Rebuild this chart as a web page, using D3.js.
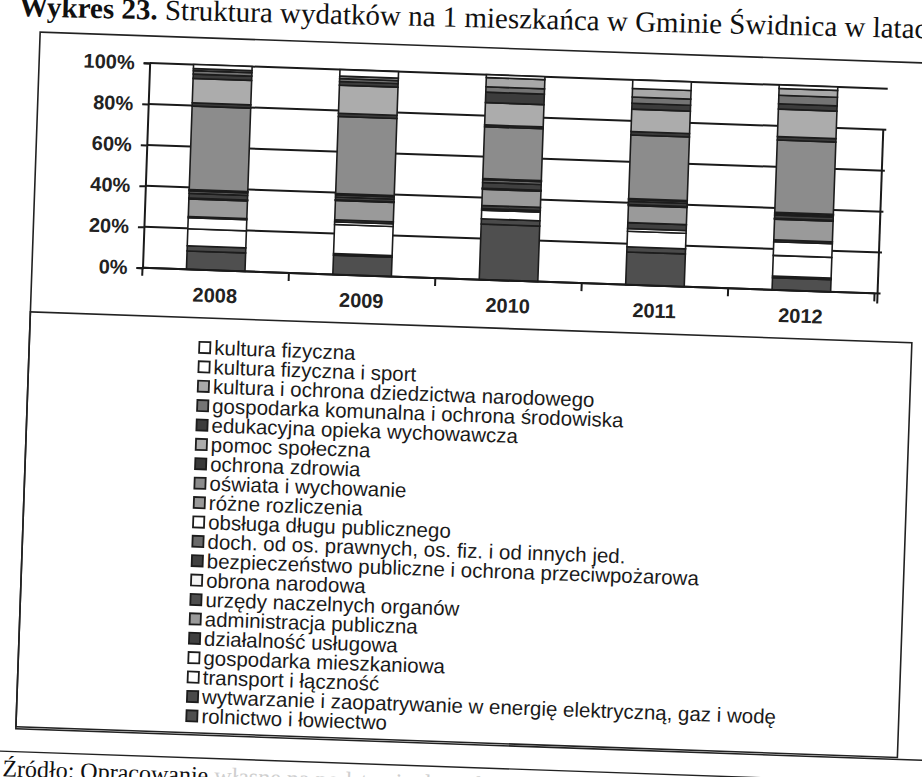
<!DOCTYPE html>
<html>
<head>
<meta charset="utf-8">
<script src="https://cdn.jsdelivr.net/npm/d3@7"></script>
<style>
  body { margin: 0; background: #fff; }
  svg { display: block; }
</style>
</head>
<body>
<script>
// Budget categories, listed as in the legend (top to bottom)
const categories = [
  "kultura fizyczna",
  "kultura fizyczna i sport",
  "kultura i ochrona dziedzictwa narodowego",
  "gospodarka komunalna i ochrona środowiska",
  "edukacyjna opieka wychowawcza",
  "pomoc społeczna",
  "ochrona zdrowia",
  "oświata i wychowanie",
  "różne rozliczenia",
  "obsługa długu publicznego",
  "doch. od os. prawnych, os. fiz. i od innych jed.",
  "bezpieczeństwo publiczne i ochrona przeciwpożarowa",
  "obrona narodowa",
  "urzędy naczelnych organów",
  "administracja publiczna",
  "działalność usługowa",
  "gospodarka mieszkaniowa",
  "transport i łączność",
  "wytwarzanie i zaopatrywanie w energię elektryczną, gaz i wodę",
  "rolnictwo i łowiectwo"
];

const years = ["2008", "2009", "2010", "2011", "2012"];
const yTicks = [0, 0.2, 0.4, 0.6, 0.8, 1.0];

// Share of expenditure per resident (%), one array per category, years 2008–2012
const kulturaFizyczna      = [0.0, 0.0, 1.4, 4.2, 1.7];
const kulturaFizycznaSport = [2.0, 3.2, 0.0, 0.0, 0.0];
const kulturaDziedzictwo   = [1.0, 1.2, 4.5, 4.2, 3.3];
const gospodarkaKomunalna  = [1.7, 1.4, 2.6, 3.0, 4.2];
const edukacyjnaOpieka     = [2.1, 1.8, 5.1, 2.9, 2.6];
const pomocSpoleczna       = [11.9, 13.7, 10.9, 10.9, 13.4];
const ochronaZdrowia       = [1.6, 1.6, 0.9, 1.7, 1.7];
const oswiata              = [40.7, 37.6, 25.3, 31.1, 35.3];
const rozneRozliczenia     = [0.2, 0.1, 0.2, 0.1, 0.1];
const obslugaDlugu         = [0.5, 0.6, 0.3, 0.3, 0.4];
const dochody              = [1.2, 1.0, 1.4, 0.9, 0.8];
const bezpieczenstwo       = [2.3, 1.3, 2.8, 1.6, 1.6];
const obronaNarodowa       = [0.1, 0.1, 0.1, 0.1, 0.1];
const urzedy               = [0.3, 0.3, 0.4, 0.3, 0.3];
const administracja        = [8.6, 9.4, 7.9, 8.4, 10.1];
const dzialalnoscUslugowa  = [0.6, 1.0, 1.5, 2.9, 0.9];
const gospodarkaMieszk     = [5.4, 1.3, 0.8, 1.3, 6.7];
const transport            = [8.3, 14.2, 4.2, 7.6, 10.1];
const wytwarzanie          = [2.5, 0.8, 2.6, 2.5, 0.8];
const rolnictwo            = [9.0, 9.4, 27.1, 16.0, 5.9];

const seriesValues = [
  kulturaFizyczna, kulturaFizycznaSport, kulturaDziedzictwo, gospodarkaKomunalna,
  edukacyjnaOpieka, pomocSpoleczna, ochronaZdrowia, oswiata, rozneRozliczenia,
  obslugaDlugu, dochody, bezpieczenstwo, obronaNarodowa, urzedy, administracja,
  dzialalnoscUslugowa, gospodarkaMieszk, transport, wytwarzanie, rolnictwo
];

// Grey fills of the printed series, same order as the legend
const fills = [
  "#ffffff", "#ffffff", "#a8a8a8", "#747474", "#3c3c3c",
  "#acacac", "#3a3a3a", "#8c8c8c", "#999999", "#ffffff",
  "#6a6a6a", "#404040", "#f4f4f4", "#4e4e4e", "#9a9a9a",
  "#404040", "#ffffff", "#ffffff", "#4a4a4a", "#4f4f4f"
];

const W = 922, H = 777;
const svg = d3.select("body").append("svg")
  .attr("width", W).attr("height", H)
  .style("font-family", "'Liberation Sans', Arial, sans-serif");

// Title (slightly skewed page)
const titleG = svg.append("g").attr("transform", "rotate(1.4, 461, 388)");
const title = titleG.append("text")
  .attr("x", 10).attr("y", 27)
  .style("font-family", "'Liberation Serif', 'Times New Roman', serif")
  .style("font-size", "29px").attr("fill", "#111");
title.append("tspan").style("font-weight", "bold").text("Wykres 23.");
title.append("tspan").text(" Struktura wydatków na 1 mieszkańca w Gminie Świdnica w latach 2008-2012");

const page = svg.append("g").attr("transform", "rotate(2, 461, 388)");

// Chart area frame and legend frame
page.append("rect").attr("x", 28).attr("y", 47).attr("width", 1000).attr("height", 697)
  .attr("fill", "none").attr("stroke", "#222").attr("stroke-width", 1.6);
page.append("rect").attr("x", 28).attr("y", 327).attr("width", 882).attr("height", 415)
  .attr("fill", "none").attr("stroke", "#222").attr("stroke-width", 1.6);

// Plot scales
const plot = { left: 138.5, right: 871, top: 74, bottom: 279 };
const x = d3.scaleBand().domain(years).range([plot.left, plot.right]).paddingInner(0.6).paddingOuter(0.3);
const xCat = d3.scaleBand().domain(years).range([plot.left, plot.right]);
const y = d3.scaleLinear().domain([0, 1]).range([plot.bottom, plot.top]);

// Gridlines
page.append("g").selectAll("line").data(yTicks).join("line")
  .attr("x1", plot.left).attr("x2", plot.right + 6)
  .attr("y1", d => y(d)).attr("y2", d => y(d))
  .attr("stroke", "#1a1a1a").attr("stroke-width", 2);

// Right edge of the plot area
page.append("line").attr("x1", plot.right + 3).attr("x2", plot.right + 3)
  .attr("y1", y(0.8)).attr("y2", plot.bottom + 10)
  .attr("stroke", "#1a1a1a").attr("stroke-width", 2);

// Stacked 100% columns (bottom series is the last legend entry)
const rows = years.map((yr, i) => {
  const r = { year: yr };
  categories.forEach((c, k) => { r[c] = seriesValues[k][i]; });
  return r;
});
const stackKeys = categories.slice().reverse();
const stacked = d3.stack().keys(stackKeys).offset(d3.stackOffsetExpand)(rows);
const fillOf = d3.scaleOrdinal().domain(categories).range(fills);

page.append("g").selectAll("g").data(stacked).join("g")
  .attr("fill", s => fillOf(s.key))
  .selectAll("rect").data(s => s.filter(d => d[1] - d[0] > 0)).join("rect")
  .attr("x", d => x(d.data.year))
  .attr("width", x.bandwidth())
  .attr("y", d => y(d[1]))
  .attr("height", d => y(d[0]) - y(d[1]))
  .attr("stroke", "#1c1c1c").attr("stroke-width", 1.6);

// Y axis
const yAxis = page.append("g").attr("transform", `translate(${plot.left},0)`)
  .call(d3.axisLeft(y).tickValues(yTicks).tickFormat(d3.format(".0%")).tickSize(6).tickPadding(9));
yAxis.select(".domain").attr("stroke", "#1a1a1a").attr("stroke-width", 2);
yAxis.selectAll(".tick line").attr("stroke", "#1a1a1a").attr("stroke-width", 2);
yAxis.selectAll(".tick text").style("font-size", "20px").style("font-weight", "bold")
  .attr("fill", "#222").style("font-family", "'Liberation Sans', Arial, sans-serif");

// X axis: ticks at category boundaries, labels centred under columns
const xAxisG = page.append("g");
xAxisG.append("line").attr("x1", plot.left).attr("x2", plot.right)
  .attr("y1", plot.bottom).attr("y2", plot.bottom)
  .attr("stroke", "#1a1a1a").attr("stroke-width", 2);
const bounds = years.map(yr => xCat(yr)).concat([plot.right]);
xAxisG.selectAll("line.tk").data(bounds).join("line").attr("class", "tk")
  .attr("x1", d => d).attr("x2", d => d)
  .attr("y1", plot.bottom).attr("y2", plot.bottom + 8)
  .attr("stroke", "#1a1a1a").attr("stroke-width", 2);
xAxisG.selectAll("text").data(years).join("text")
  .attr("x", d => xCat(d) + xCat.bandwidth() / 2)
  .attr("y", plot.bottom + 32)
  .attr("text-anchor", "middle")
  .style("font-size", "20px").style("font-weight", "bold").attr("fill", "#222")
  .text(d => d);

// Legend
const legend = page.append("g").attr("transform", "translate(203, 357)");
const item = legend.selectAll("g").data(categories).join("g")
  .attr("transform", (d, i) => `translate(0, ${i * 19.4})`);
item.append("rect").attr("x", -5).attr("y", -6).attr("width", 11).attr("height", 11)
  .attr("fill", d => fillOf(d)).attr("stroke", "#1c1c1c").attr("stroke-width", 1.8);
item.append("text").attr("x", 10).attr("y", 6.5)
  .style("font-size", "20.5px").attr("fill", "#1a1a1a").text(d => d);

// Source note
page.append("line").attr("x1", 0).attr("x2", 920).attr("y1", 767).attr("y2", 767)
  .attr("stroke", "#222").attr("stroke-width", 1.4);
const src = page.append("text").attr("x", 16).attr("y", 792)
  .style("font-family", "'Liberation Serif', 'Times New Roman', serif")
  .style("font-size", "24px").attr("fill", "#111");
src.append("tspan").text("Źródło: Opracowanie");
src.append("tspan").attr("fill", "#cfcfcf").text(" własne na podstawie danych Urzędu Gminy");
</script>
</body>
</html>
